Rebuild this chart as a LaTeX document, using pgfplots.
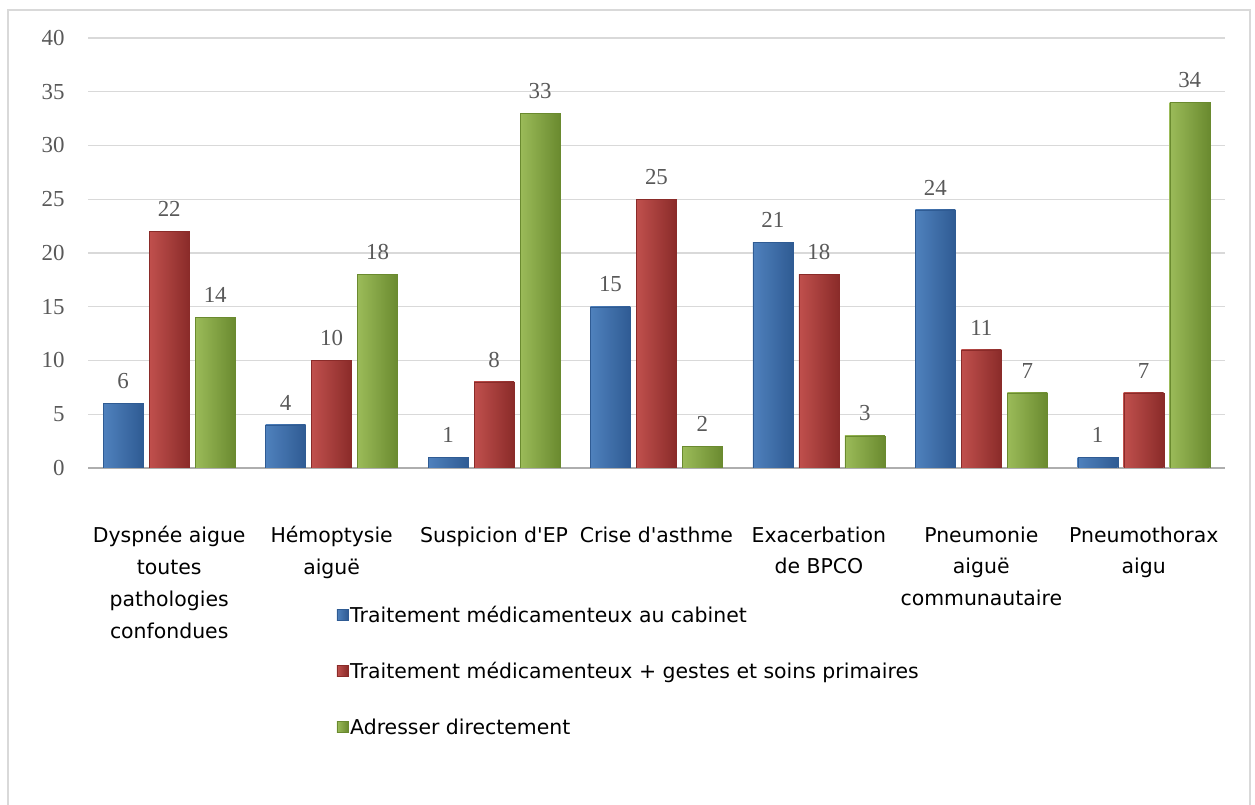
\documentclass[border=0pt]{standalone}
\usepackage{pgfplots}
\pgfplotsset{compat=1.18}
\usepackage{fontspec}
\setmainfont{Liberation Serif}
\newfontfamily\catfont{DejaVu Sans}
\definecolor{bluebase}{HTML}{4F81BD}
\definecolor{bluelight}{HTML}{6C9AD6}
\definecolor{bluedark}{HTML}{2F5B93}
\definecolor{redbase}{HTML}{C0504D}
\definecolor{redlight}{HTML}{D86A66}
\definecolor{reddark}{HTML}{8A2B29}
\definecolor{greenbase}{HTML}{9BBB59}
\definecolor{greenlight}{HTML}{B3D26F}
\definecolor{greendark}{HTML}{6A8A2F}
\definecolor{gridgray}{HTML}{D9D9D9}
\definecolor{ticktext}{HTML}{595959}
\pgfplotsset{
  barbase/.style={ybar, bar width=40bp, nodes near coords,
    every node near coord/.append style={font=\fontsize{23}{25}\selectfont, text=ticktext, yshift=11bp}},
  bluebar/.style={barbase, bar shift=-46bp, draw=bluedark, left color=bluebase, middle color=bluelight, right color=bluedark,
    every node near coord/.append style={xshift=-46bp}},
  redbar/.style={barbase, bar shift=0bp, draw=reddark, left color=redbase, middle color=redlight, right color=reddark},
  greenbar/.style={barbase, bar shift=46bp, draw=greendark, left color=greenbase, middle color=greenlight, right color=greendark,
    every node near coord/.append style={xshift=46bp}},
}
\begin{document}
\begin{tikzpicture}[x=1bp,y=1bp]
\useasboundingbox (0,0) rectangle (1255,805);
\draw[color=gridgray, line width=1.5bp] (8,-5) rectangle (1250,795);
\begin{axis}[
  at={(88bp,337bp)}, anchor=south west,
  scale only axis, width=1137bp, height=430bp,
  xmin=-0.5, xmax=6.5, ymin=0, ymax=40,
  ytick={0,5,...,40},
  xtick={0,1,2,3,4,5,6},
  xticklabels={{Dyspnée aigue\\toutes\\pathologies\\confondues},{Hémoptysie\\aiguë},{Suspicion d'EP},{Crise d'asthme},{Exacerbation\\de BPCO},{Pneumonie\\aiguë\\communautaire},{Pneumothorax\\aigu}},
  xticklabel style={align=center, font=\catfont\fontsize{20.5}{32}\selectfont, text=black, anchor=north, yshift=-55bp},
  yticklabel style={font=\fontsize{23}{25}\selectfont, text=ticktext, xshift=-20bp},
  /pgf/number format/assume math mode=true,
  major tick length=0pt,
  ymajorgrids, grid style={color=gridgray, line width=1.3bp},
  axis x line*=bottom, axis y line*=left,
  x axis line style={color=gridgray!80!black, line width=1.5bp, -},
  y axis line style={draw=none},
  legend cell align=left,
  legend style={draw=none, fill=none, at={(0.216,-0.312)}, anchor=north west,
    font=\catfont\fontsize{20.5}{22}\selectfont, row sep=34.5bp,
    /tikz/every even column/.append style={column sep=4bp}},
  legend image code/.code={\draw[#1] (0bp,-5bp) rectangle (11bp,6bp);},
]
% legend-carrying bars (category 0)
\addplot[bluebar] coordinates {(0,6)};
\addplot[redbar] coordinates {(0,22)};
\addplot[greenbar] coordinates {(0,14)};
% Traitement médicamenteux au cabinet
\addplot[bluebar, forget plot] coordinates {(1,4)};
\addplot[bluebar, forget plot] coordinates {(2,1)};
\addplot[bluebar, forget plot] coordinates {(3,15)};
\addplot[bluebar, forget plot] coordinates {(4,21)};
\addplot[bluebar, forget plot] coordinates {(5,24)};
\addplot[bluebar, forget plot] coordinates {(6,1)};
% Traitement médicamenteux + gestes et soins primaires
\addplot[redbar, forget plot] coordinates {(1,10)};
\addplot[redbar, forget plot] coordinates {(2,8)};
\addplot[redbar, forget plot] coordinates {(3,25)};
\addplot[redbar, forget plot] coordinates {(4,18)};
\addplot[redbar, forget plot] coordinates {(5,11)};
\addplot[redbar, forget plot] coordinates {(6,7)};
% Adresser directement
\addplot[greenbar, forget plot] coordinates {(1,18)};
\addplot[greenbar, forget plot] coordinates {(2,33)};
\addplot[greenbar, forget plot] coordinates {(3,2)};
\addplot[greenbar, forget plot] coordinates {(4,3)};
\addplot[greenbar, forget plot] coordinates {(5,7)};
\addplot[greenbar, forget plot] coordinates {(6,34)};
\legend{Traitement médicamenteux au cabinet, Traitement médicamenteux + gestes et soins primaires, Adresser directement}
\end{axis}
\end{tikzpicture}
\end{document}
